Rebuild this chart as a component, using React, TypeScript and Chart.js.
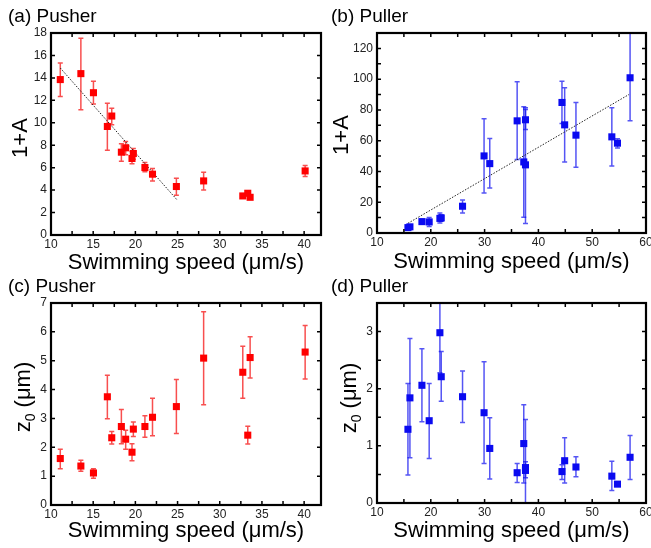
import React, { useEffect, useRef } from 'react';
import { Chart, registerables } from 'chart.js';

Chart.register(...registerables);

const FONT = '"Liberation Sans", Arial, Helvetica, sans-serif';

// ---------- Pusher (panels a, c) ----------
const pusherSpeed = [11.1, 13.54, 15.03, 16.68, 17.2, 18.34, 18.85, 19.6, 19.76, 21.13, 22.03, 24.86, 28.09, 32.73, 33.32, 33.6, 40.12];
const pusherA = [13.85, 14.38, 12.68, 9.67, 10.6, 7.38, 7.77, 6.82, 7.26, 6.01, 5.42, 4.32, 4.82, 3.48, 3.72, 3.36, 5.71];
const pusherALow = [12.35, 11.16, 11.67, 7.56, 9.82, 6.58, 7.14, 6.34, 6.76, 5.63, 4.82, 3.54, 4.02, 3.3, 3.52, 3.2, 5.21];
const pusherAHigh = [15.33, 17.53, 13.7, 11.73, 11.3, 8.13, 8.33, 7.44, 7.71, 6.46, 5.92, 5.06, 5.6, 3.66, 3.92, 3.52, 6.19];
const pusherZ0 = [1.61, 1.35, 1.11, 3.75, 2.33, 2.72, 2.28, 1.83, 2.63, 2.72, 3.04, 3.41, 5.09, 4.6, 2.42, 5.11, 5.3];
const pusherZ0Low = [1.26, 1.17, 0.93, 2.99, 2.11, 2.12, 1.93, 1.53, 2.37, 2.35, 2.4, 2.48, 3.47, 3.7, 2.11, 4.4, 4.37];
const pusherZ0High = [1.93, 1.55, 1.26, 4.5, 2.55, 3.31, 2.59, 2.12, 2.88, 3.09, 3.7, 4.35, 6.7, 5.5, 2.73, 5.83, 6.22];
const pusherFitX = [11.1, 24.94];
const pusherFitY = [14.88, 3.13];

// ---------- Puller (panels b, d) ----------
const pullerSpeed = [15.75, 16.12, 18.35, 19.7, 21.69, 21.94, 25.9, 29.9, 30.96, 36.05, 37.28, 37.6, 37.6, 44.38, 44.88, 46.98, 53.65, 54.7, 57.04];
const pullerA = [3.5, 4.0, 7.4, 7.2, 9.5, 9.8, 17.4, 50.1, 45.1, 72.9, 46.2, 73.6, 44.3, 84.85, 70.3, 63.6, 62.5, 58.4, 100.9];
const pullerALow = [3.0, 3.4, 6.1, 4.3, 6.5, 8.0, 13.0, 26.0, 29.3, 47.7, 10.2, 67.3, 6.1, 71.2, 46.2, 42.8, 43.6, 55.3, 72.9];
const pullerAHigh = [4.0, 4.6, 8.7, 10.0, 13.0, 11.8, 21.5, 74.2, 61.4, 98.3, 82.0, 81.4, 80.3, 98.7, 94.4, 84.9, 81.4, 61.2, 135];
const pullerZ0 = [1.29, 1.84, 2.06, 1.44, 2.98, 2.21, 1.86, 1.58, 0.955, 0.53, 1.04, 0.62, 0.57, 0.55, 0.74, 0.63, 0.47, 0.33, 0.8];
const pullerZ0Low = [0.49, 0.79, 1.42, 0.78, 2.28, 1.78, 1.41, 0.69, 0.42, 0.36, 0.35, -0.2, 0.44, 0.41, 0.35, 0.46, 0.22, 0.3, 0.41];
const pullerZ0High = [2.09, 2.88, 2.7, 2.09, 3.8, 2.65, 2.31, 2.47, 1.49, 0.69, 1.72, 1.46, 0.72, 0.67, 1.14, 0.81, 0.73, 0.36, 1.18];
const pullerFitX = [15.75, 56.85];
const pullerFitY = [6.3, 90.06];

// ---------- tick labels ----------
const pusherXTicks = [10, 15, 20, 25, 30, 35, 40];
const pullerXTicks = [10, 20, 30, 40, 50, 60];
const aYTicks = [0, 2, 4, 6, 8, 10, 12, 14, 16, 18];
const bYTicks = [0, 20, 40, 60, 80, 100, 120];
const cYTicks = [0, 1, 2, 3, 4, 5, 6, 7];
const dYTicks = [0, 1, 2, 3];

type Seg = { t: string; sub?: boolean };

type PanelCfg = {
  left: number; top: number; width: number; height: number;
  padRight: number; yWidth: number; xHeight: number;
  xMin: number; xMax: number; yMin: number; yMax: number;
  xTicks: number[]; yTicks: number[]; xMinor: number; yMinor: number;
  xs: number[]; ys: number[]; lo: number[]; hi: number[];
  fitX?: number[]; fitY?: number[];
  color: string; errColor: string;
  title: string; titleX: number; titleY: number;
  xTitleY: number;
  yTitle: Seg[]; yTitleX: number; yTitleCY: number;
};

function makePlugin(cfg: PanelCfg) {
  return {
    id: 'decor',
    beforeDatasetsDraw(chart: any) {
      const { ctx, chartArea: ca, scales } = chart;
      const xs = scales.x, ys = scales.y;
      ctx.save();
      ctx.beginPath();
      ctx.rect(ca.left, ca.top, ca.right - ca.left, ca.bottom - ca.top);
      ctx.clip();
      ctx.strokeStyle = cfg.errColor;
      ctx.lineWidth = 1.5;
      cfg.xs.forEach((xv, i) => {
        const px = xs.getPixelForValue(xv);
        const pl = ys.getPixelForValue(cfg.lo[i]);
        const ph = ys.getPixelForValue(cfg.hi[i]);
        ctx.beginPath();
        ctx.moveTo(px, pl); ctx.lineTo(px, ph);
        ctx.moveTo(px - 2.5, pl); ctx.lineTo(px + 2.5, pl);
        ctx.moveTo(px - 2.5, ph); ctx.lineTo(px + 2.5, ph);
        ctx.stroke();
      });
      ctx.restore();
    },
    afterDraw(chart: any) {
      const { ctx, chartArea: ca, scales } = chart;
      const xs = scales.x, ys = scales.y;
      ctx.save();
      // inner ticks on all four sides
      ctx.strokeStyle = '#000';
      ctx.lineWidth = 1.5;
      const tl = 4;
      ctx.beginPath();
      for (let v = cfg.xMin; v <= cfg.xMax + 1e-9; v += cfg.xMinor) {
        const p = xs.getPixelForValue(v);
        if (p <= ca.left + 1 || p >= ca.right - 1) continue;
        ctx.moveTo(p, ca.bottom); ctx.lineTo(p, ca.bottom - tl);
        ctx.moveTo(p, ca.top); ctx.lineTo(p, ca.top + tl);
      }
      for (let v = cfg.yMin; v <= cfg.yMax + 1e-9; v += cfg.yMinor) {
        const p = ys.getPixelForValue(v);
        if (p <= ca.top + 1 || p >= ca.bottom - 1) continue;
        ctx.moveTo(ca.left, p); ctx.lineTo(ca.left + tl, p);
        ctx.moveTo(ca.right, p); ctx.lineTo(ca.right - tl, p);
      }
      ctx.stroke();
      // frame
      ctx.lineWidth = 2.2;
      ctx.strokeRect(ca.left, ca.top, ca.right - ca.left, ca.bottom - ca.top);

      // panel title
      ctx.fillStyle = '#000';
      ctx.font = `19px ${FONT}`;
      ctx.textAlign = 'left';
      ctx.textBaseline = 'alphabetic';
      ctx.fillText(cfg.title, cfg.titleX, cfg.titleY);

      // x title
      ctx.font = `22px ${FONT}`;
      ctx.textAlign = 'center';
      ctx.fillText('Swimming speed (\u03bcm/s)', (ca.left + ca.right) / 2, cfg.xTitleY);

      // y title (rotated, rich text)
      ctx.translate(cfg.yTitleX, cfg.yTitleCY);
      ctx.rotate(-Math.PI / 2);
      const big = `22px ${FONT}`;
      const small = `14px ${FONT}`;
      let total = 0;
      cfg.yTitle.forEach((s) => {
        ctx.font = s.sub ? small : big;
        total += ctx.measureText(s.t).width;
      });
      let x = -total / 2;
      ctx.textAlign = 'left';
      cfg.yTitle.forEach((s) => {
        ctx.font = s.sub ? small : big;
        ctx.fillText(s.t, x, s.sub ? 5 : 0);
        x += ctx.measureText(s.t).width;
      });
      ctx.restore();
    },
  };
}

function Panel({ cfg }: { cfg: PanelCfg }) {
  const ref = useRef<HTMLCanvasElement>(null);
  useEffect(() => {
    if (!ref.current) return;
    const datasets: any[] = [
      {
        type: 'scatter',
        data: cfg.xs.map((x, i) => ({ x, y: cfg.ys[i] })),
        pointStyle: 'rect',
        pointRadius: 5,
        backgroundColor: cfg.color,
        borderWidth: 0,
      },
    ];
    if (cfg.fitX && cfg.fitY) {
      datasets.push({
        type: 'line',
        data: cfg.fitX.map((x, i) => ({ x, y: cfg.fitY![i] })),
        borderColor: '#222',
        borderWidth: 1,
        borderDash: [1.5, 1.5],
        pointRadius: 0,
        fill: false,
      });
    }
    const tickFont = { family: FONT, size: 12 };
    const chart = new Chart(ref.current, {
      type: 'scatter',
      data: { datasets },
      plugins: [makePlugin(cfg)],
      options: {
        responsive: false,
        animation: false,
        events: [],
        layout: { padding: { top: 33, right: cfg.padRight, bottom: 0, left: 0 } },
        plugins: { legend: { display: false }, tooltip: { enabled: false }, title: { display: false } },
        scales: {
          x: {
            type: 'linear',
            position: 'bottom',
            min: cfg.xMin,
            max: cfg.xMax,
            grid: { display: false, drawTicks: false },
            border: { display: false },
            ticks: { font: tickFont, color: '#222', padding: 2, maxRotation: 0, autoSkip: false, includeBounds: false },
            afterBuildTicks: (s: any) => { s.ticks = cfg.xTicks.map((v) => ({ value: v })); },
            afterFit: (s: any) => { s.height = cfg.xHeight; },
          },
          y: {
            type: 'linear',
            position: 'left',
            min: cfg.yMin,
            max: cfg.yMax,
            grid: { display: false, drawTicks: false },
            border: { display: false },
            ticks: { font: tickFont, color: '#222', padding: 4, autoSkip: false, includeBounds: false },
            afterBuildTicks: (s: any) => { s.ticks = cfg.yTicks.map((v) => ({ value: v })); },
            afterFit: (s: any) => { s.width = cfg.yWidth; },
          },
        },
      } as any,
    });
    return () => chart.destroy();
  }, [cfg]);
  return (
    <canvas
      ref={ref}
      width={cfg.width}
      height={cfg.height}
      style={{ position: 'absolute', left: cfg.left, top: cfg.top, width: cfg.width, height: cfg.height }}
    />
  );
}

const RED = '#ff0000';
const RED_ERR = 'rgba(245,20,20,0.75)';
const BLUE = '#0a0af0';
const BLUE_ERR = 'rgba(20,20,240,0.72)';

const panelA: PanelCfg = {
  left: 0, top: 0, width: 326, height: 282, padRight: 5, yWidth: 51, xHeight: 282 - 235,
  xMin: 10, xMax: 42, yMin: 0, yMax: 18, xTicks: pusherXTicks, yTicks: aYTicks, xMinor: 2.5, yMinor: 2,
  xs: pusherSpeed, ys: pusherA, lo: pusherALow, hi: pusherAHigh, fitX: pusherFitX, fitY: pusherFitY,
  color: RED, errColor: RED_ERR,
  title: '(a) Pusher', titleX: 8, titleY: 22, xTitleY: 269,
  yTitle: [{ t: '1+A' }], yTitleX: 27, yTitleCY: 138,
};

const panelB: PanelCfg = {
  left: 326, top: 0, width: 340, height: 282, padRight: 20, yWidth: 51, xHeight: 282 - 233,
  xMin: 10, xMax: 60, yMin: 0, yMax: 130, xTicks: pullerXTicks, yTicks: bYTicks, xMinor: 5, yMinor: 10,
  xs: pullerSpeed, ys: pullerA, lo: pullerALow, hi: pullerAHigh, fitX: pullerFitX, fitY: pullerFitY,
  color: BLUE, errColor: BLUE_ERR,
  title: '(b) Puller', titleX: 5, titleY: 22, xTitleY: 268,
  yTitle: [{ t: '1+A' }], yTitleX: 22, yTitleCY: 135,
};

const panelC: PanelCfg = {
  left: 0, top: 270, width: 326, height: 278, padRight: 5, yWidth: 51, xHeight: 278 - 235,
  xMin: 10, xMax: 42, yMin: 0, yMax: 7, xTicks: pusherXTicks, yTicks: cYTicks, xMinor: 2.5, yMinor: 1,
  xs: pusherSpeed, ys: pusherZ0, lo: pusherZ0Low, hi: pusherZ0High,
  color: RED, errColor: RED_ERR,
  title: '(c) Pusher', titleX: 8, titleY: 22, xTitleY: 267,
  yTitle: [{ t: 'z' }, { t: '0', sub: true }, { t: ' (\u03bcm)' }], yTitleX: 30, yTitleCY: 127,
};

const panelD: PanelCfg = {
  left: 326, top: 270, width: 340, height: 278, padRight: 20, yWidth: 51, xHeight: 278 - 233,
  xMin: 10, xMax: 60, yMin: 0, yMax: 3.5, xTicks: pullerXTicks, yTicks: dYTicks, xMinor: 5, yMinor: 0.5,
  xs: pullerSpeed, ys: pullerZ0, lo: pullerZ0Low, hi: pullerZ0High,
  color: BLUE, errColor: BLUE_ERR,
  title: '(d) Puller', titleX: 5, titleY: 22, xTitleY: 267,
  yTitle: [{ t: 'z' }, { t: '0', sub: true }, { t: ' (\u03bcm)' }], yTitleX: 30, yTitleCY: 128,
};

export default function App() {
  return (
    <div style={{ position: 'absolute', left: 0, top: 0, width: 651, height: 548, overflow: 'hidden', background: '#fff' }}>
      <Panel cfg={panelA} />
      <Panel cfg={panelB} />
      <Panel cfg={panelC} />
      <Panel cfg={panelD} />
    </div>
  );
}
